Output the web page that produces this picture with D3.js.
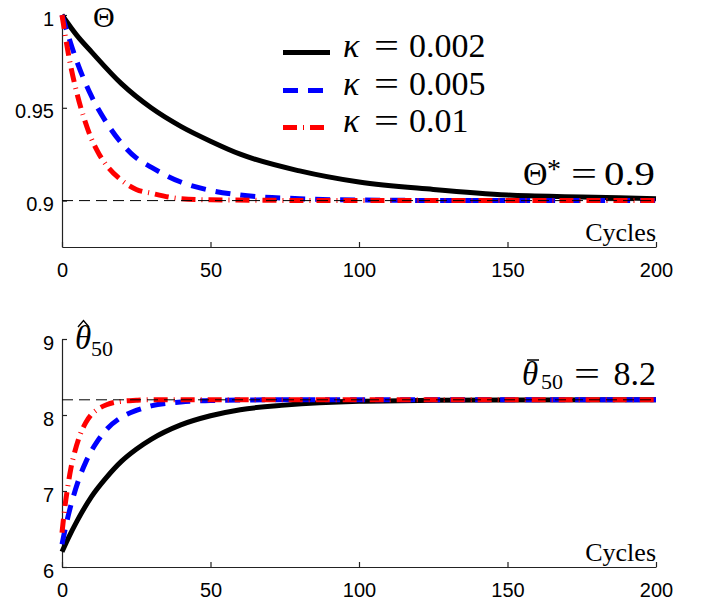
<!DOCTYPE html>
<html>
<head>
<meta charset="utf-8">
<script src="https://cdn.jsdelivr.net/npm/d3@7"></script>
<style>
  body { margin: 0; background: #fff; }
</style>
</head>
<body>
<div id="chart"></div>
<script>
// ---- data ----
const xTicks = [0, 50, 100, 150, 200];
const topTicks = [0.9, 0.95, 1];
const botTicks = [6, 7, 8, 9];
const thetaStar = 0.9;
const thetaBar = 8.2;

const kappaLabels = ["0.002", "0.005", "0.01"];

// upper panel: Theta vs cycles
const cycTopK002 = [0, 5, 10, 20, 30, 40, 50, 60, 80, 100, 125, 150, 175, 200];
const thetaK002 = [1.0, 0.989, 0.980, 0.963, 0.950, 0.940, 0.932, 0.925, 0.916, 0.910, 0.906, 0.903, 0.902, 0.901];
const cycTopK005 = [0, 5, 10, 15, 20, 25, 30, 40, 50, 60, 80, 100, 150, 200];
const thetaK005 = [1.0, 0.975, 0.956, 0.942, 0.931, 0.923, 0.918, 0.910, 0.9055, 0.903, 0.901, 0.9003, 0.9, 0.9];
const cycTopK01 = [0, 2.5, 5, 7.5, 10, 12.5, 15, 20, 25, 30, 40, 50, 100, 200];
const thetaK01 = [1.0, 0.976, 0.958, 0.944, 0.933, 0.925, 0.919, 0.911, 0.906, 0.904, 0.901, 0.9004, 0.9, 0.9];

// lower panel: theta_50 estimate vs cycles
const cycBotK002 = [0, 2, 5, 10, 15, 20, 25, 30, 40, 50, 60, 75, 100, 125, 150, 200];
const hatK002 = [6.2, 6.37, 6.6, 6.93, 7.18, 7.39, 7.55, 7.68, 7.87, 7.99, 8.07, 8.13, 8.18, 8.193, 8.198, 8.2];
const cycBotK005 = [0, 2, 4, 6, 8, 10, 12, 15, 20, 25, 30, 40, 50, 75, 200];
const hatK005 = [6.3, 6.66, 6.95, 7.19, 7.38, 7.535, 7.66, 7.81, 7.97, 8.06, 8.12, 8.17, 8.19, 8.2, 8.2];
const cycBotK01 = [0, 1, 2, 3, 4, 6, 8, 10, 12, 15, 20, 25, 30, 200];
const hatK01 = [6.45, 6.8, 7.07, 7.3, 7.47, 7.73, 7.9, 8.01, 8.075, 8.135, 8.18, 8.193, 8.2, 8.2];

// ---- styles ----
const colors = ["#000000", "#0000ff", "#ff0000"];
const dashes = [null, "15,10", "14,6,1,6"];
const serif = "'Liberation Serif', 'DejaVu Serif', serif";
const sans = "'Liberation Sans', Arial, sans-serif";

const svg = d3.select("#chart").append("svg")
  .attr("width", 702)
  .attr("height", 605)
  .style("background", "#fff");

const xScale = d3.scaleLinear().domain([0, 200]).range([62, 656]);
const yTop = d3.scaleLinear().domain([0.875, 1]).range([247, 15]);
const yBot = d3.scaleLinear().domain([6, 9]).range([567, 339]);

function drawAxes(y, yTicks, bottomY) {
  const gx = svg.append("g")
    .attr("transform", `translate(0,${bottomY})`)
    .call(d3.axisBottom(xScale).tickValues(xTicks).tickSizeInner(-5).tickSizeOuter(0).tickPadding(16));
  const gy = svg.append("g")
    .attr("transform", `translate(${xScale(0)},0)`)
    .call(d3.axisLeft(y).tickValues(yTicks).tickFormat(d => String(d))
      .tickSizeInner(-5).tickSizeOuter(0).tickPadding(8));
  gy.selectAll("text").attr("dy", "0.5em");
  [gx, gy].forEach(g => {
    g.selectAll("text").attr("font-family", sans).attr("font-size", 20).attr("fill", "#000");
    g.selectAll("line, path").attr("stroke", "#222").attr("stroke-width", 1.2);
  });
}

function drawSeries(y, xs, ys, i) {
  const pts = xs.map((c, j) => [c, ys[j]]);
  const line = d3.line()
    .x(d => xScale(d[0]))
    .y(d => y(d[1]))
    .curve(d3.curveMonotoneX);
  svg.append("path")
    .datum(pts)
    .attr("fill", "none")
    .attr("stroke", colors[i])
    .attr("stroke-width", 5)
    .attr("stroke-dasharray", dashes[i])
    .attr("d", line);
}

function refLine(y, v) {
  svg.append("line")
    .attr("x1", xScale(0)).attr("x2", xScale(200))
    .attr("y1", y(v)).attr("y2", y(v))
    .attr("stroke", "#000")
    .attr("stroke-width", 1)
    .attr("stroke-dasharray", "11,6");
}

function label(x, y, size, txt) {
  return svg.append("text").attr("x", x).attr("y", y)
    .attr("font-family", serif).attr("font-size", size).attr("fill", "#000").text(txt);
}

// ---- upper panel ----
drawAxes(yTop, topTicks, 247);
drawSeries(yTop, cycTopK002, thetaK002, 0);
drawSeries(yTop, cycTopK005, thetaK005, 1);
drawSeries(yTop, cycTopK01, thetaK01, 2);
refLine(yTop, thetaStar);

label(93, 27, 30, "Θ");
label(656, 241, 26, "Cycles").attr("text-anchor", "end");

// Theta* = 0.9
const ts = svg.append("text").attr("x", 523).attr("y", 185)
  .attr("font-family", serif).attr("fill", "#000");
ts.append("tspan").attr("font-size", 34).text("Θ");
ts.append("tspan").attr("x", 547).attr("y", 178).attr("font-size", 28).text("*");
label(571, 185, 34, "=").attr("textLength", 26).attr("lengthAdjust", "spacingAndGlyphs");
label(604, 185, 34, thetaStar.toFixed(1)).attr("textLength", 51).attr("lengthAdjust", "spacingAndGlyphs");

// legend
const legY = [57, 95, 132];
kappaLabels.forEach((lab, i) => {
  svg.append("line")
    .attr("x1", 283).attr("x2", 330)
    .attr("y1", legY[i] - 4.5).attr("y2", legY[i] - 4.5)
    .attr("stroke", colors[i]).attr("stroke-width", 5)
    .attr("stroke-dasharray", dashes[i]);
  label(343, legY[i], 34, "κ").attr("font-style", "italic");
  label(374, legY[i], 34, "=").attr("textLength", 25).attr("lengthAdjust", "spacingAndGlyphs");
  label(409, legY[i], 34, lab);
});

// ---- lower panel ----
drawAxes(yBot, botTicks, 567);
drawSeries(yBot, cycBotK002, hatK002, 0);
drawSeries(yBot, cycBotK005, hatK005, 1);
drawSeries(yBot, cycBotK01, hatK01, 2);
refLine(yBot, thetaBar);

// theta-hat_50 (hat drawn as a small stroke)
const th = svg.append("text").attr("x", 75).attr("y", 349)
  .attr("font-family", serif).attr("fill", "#000");
th.append("tspan").attr("font-size", 33).attr("font-style", "italic").text("θ");
th.append("tspan").attr("x", 91).attr("y", 356).attr("font-size", 22).text("50");
svg.append("path")
  .attr("d", "M78,327 L83.5,320.5 L89,327")
  .attr("fill", "none").attr("stroke", "#000").attr("stroke-width", 1.4);

label(656, 561, 26, "Cycles").attr("text-anchor", "end");

// theta-bar_50 = 8.2
const tb = svg.append("text").attr("x", 522).attr("y", 385)
  .attr("font-family", serif).attr("fill", "#000");
tb.append("tspan").attr("font-size", 33).attr("font-style", "italic").text("θ");
tb.append("tspan").attr("x", 541).attr("y", 389).attr("font-size", 22).text("50");
svg.append("line")
  .attr("x1", 527).attr("x2", 539).attr("y1", 360).attr("y2", 360)
  .attr("stroke", "#000").attr("stroke-width", 1.5);
label(574, 385, 34, "=").attr("textLength", 26).attr("lengthAdjust", "spacingAndGlyphs");
label(656, 385, 34, thetaBar.toFixed(1)).attr("text-anchor", "end");
</script>
</body>
</html>
